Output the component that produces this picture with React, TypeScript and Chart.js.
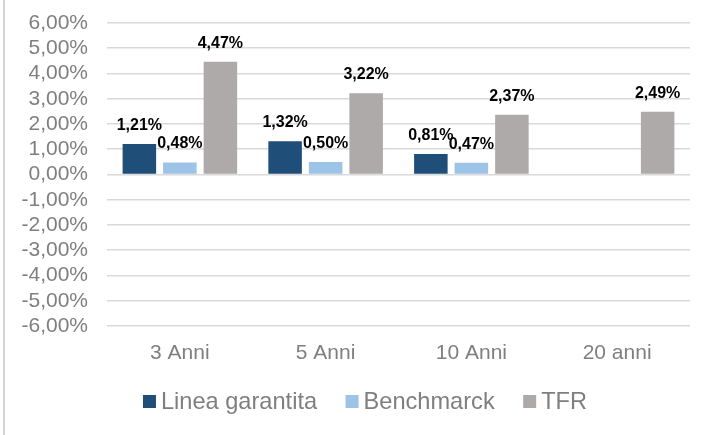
import React, { useEffect, useRef } from "react";
import { Chart, registerables } from "chart.js";

Chart.register(...registerables);

const categories = ["3 Anni", "5 Anni", "10 Anni", "20 anni"];
const lineaGarantita = [1.21, 1.32, 0.81, null];
const benchmarck = [0.48, 0.5, 0.47, null];
const tfr = [4.47, 3.22, 2.37, 2.49];
const seriesNames = ["Linea garantita", "Benchmarck", "TFR"];
const seriesColors = ["#1F4E79", "#9DC3E6", "#AEAAAA"];

const FONT = "'Liberation Sans', Arial, sans-serif";
const fmt = (v: number) => (Math.abs(v) < 1e-9 ? 0 : v).toFixed(2).replace(".", ",") + "%";

const labelPlugin = {
  id: "valueLabels",
  afterDatasetsDraw(chart: any) {
    const ctx = chart.ctx;
    ctx.save();
    ctx.font = `bold 16px ${FONT}`;
    ctx.fillStyle = "#000000";
    ctx.textAlign = "center";
    ctx.textBaseline = "alphabetic";
    chart.data.datasets.forEach((ds: any, i: number) => {
      const meta = chart.getDatasetMeta(i);
      meta.data.forEach((el: any, j: number) => {
        const v = ds.data[j];
        if (v === null || v === undefined) return;
        ctx.fillText(fmt(v), el.x, el.y - 14);
      });
    });
    ctx.restore();
  },
};

const legendPlugin = {
  id: "customLegend",
  afterDraw(chart: any) {
    const ctx = chart.ctx;
    ctx.save();
    ctx.font = `23.6px ${FONT}`;
    ctx.textBaseline = "middle";
    ctx.textAlign = "left";
    const box = 13;
    const gapBoxText = 5;
    const gapItems = 28.5;
    const items = chart.data.datasets.map((ds: any) => ({
      label: ds.label,
      color: ds.backgroundColor,
      w: ctx.measureText(ds.label).width,
    }));
    const total =
      items.reduce((a: number, it: any) => a + box + gapBoxText + it.w, 0) + gapItems * (items.length - 1);
    let x = 365 - total / 2;
    const cy = 401.5;
    items.forEach((it: any) => {
      ctx.fillStyle = it.color;
      ctx.fillRect(x, cy - box / 2, box, box);
      x += box + gapBoxText;
      ctx.fillStyle = "#7F7F7F";
      ctx.fillText(it.label, x, cy + 1);
      x += it.w + gapItems;
    });
    ctx.restore();
  },
};

export default function App() {
  const ref = useRef<HTMLCanvasElement | null>(null);
  useEffect(() => {
    if (!ref.current) return;
    const chart = new Chart(ref.current, {
      type: "bar",
      data: {
        labels: categories,
        datasets: [lineaGarantita, benchmarck, tfr].map((d, i) => ({
          label: seriesNames[i],
          data: d,
          backgroundColor: seriesColors[i],
          borderWidth: 0,
          categoryPercentage: 0.834,
          barPercentage: 0.827,
        })),
      },
      options: {
        animation: false,
        responsive: false,
        maintainAspectRatio: false,
        layout: { padding: { left: 0, right: 22, top: 23, bottom: 61 } },
        plugins: {
          tooltip: { enabled: false },
          legend: { display: false },
        },
        scales: {
          x: {
            grid: { display: false, drawTicks: false },
            border: { display: false },
            ticks: { color: "#7F7F7F", font: { family: FONT, size: 21 }, padding: 15 },
            afterFit: (s: any) => {
              s.height = 48;
            },
          },
          y: {
            min: -6,
            max: 6,
            grid: { color: "#D9D9D9", lineWidth: 1.6, drawTicks: false },
            border: { display: false },
            ticks: {
              stepSize: 1,
              autoSkip: false,
              color: "#7F7F7F",
              font: { family: FONT, size: 21 },
              padding: 19,
              callback: (v: any) => fmt(Number(v)),
            },
            afterFit: (s: any) => {
              s.width = 107;
              s.paddingTop = 5;
              s.paddingBottom = 5;
            },
          },
        },
      },
      plugins: [labelPlugin, legendPlugin],
    });
    return () => chart.destroy();
  }, []);
  return (
    <div style={{ position: "fixed", left: 0, top: 0, width: 712, height: 435, background: "#fff" }}>
      <div style={{ position: "absolute", left: 3, top: 0, width: 2, height: 435, background: "#D4D4D4" }} />
      <canvas ref={ref} width={712} height={435} style={{ position: "absolute", left: 0, top: 0 }} />
    </div>
  );
}
